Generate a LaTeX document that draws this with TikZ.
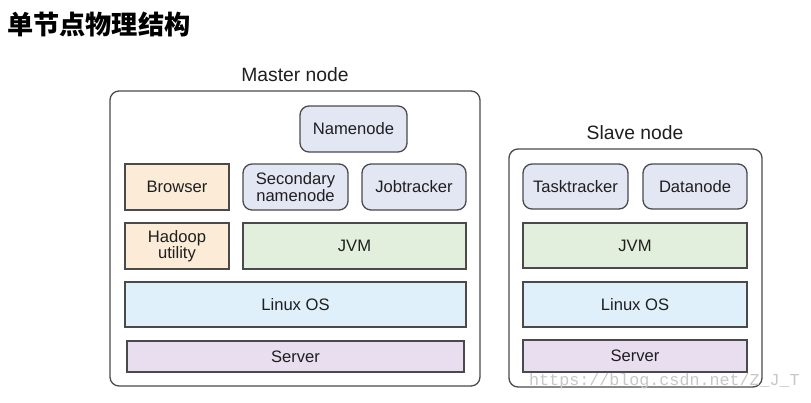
\documentclass[tikz,border=0pt]{standalone}
\usepackage{fontspec}
\setmainfont{Liberation Sans}
\newfontfamily\cjk{Noto Sans CJK SC}
\newfontfamily\wmfont{Liberation Mono}
\definecolor{edge}{HTML}{4A4A4A}
\definecolor{peach}{HTML}{FCEBD6}
\definecolor{lav}{HTML}{E3E7F4}
\definecolor{jvmg}{HTML}{E2EFDC}
\definecolor{osb}{HTML}{DFF0FA}
\definecolor{srvp}{HTML}{E9DEEF}
\tikzset{
  base/.style={draw=edge, line width=1.3pt, inner sep=0pt, align=center,
    font=\fontsize{16.6}{16.5}\selectfont, text=black!88},
  sq/.style={base, rectangle},
  rd/.style={base, rectangle, rounded corners=9pt},
  outer/.style={draw=edge, line width=1.3pt, rounded corners=9pt, inner sep=0pt, fill=white},
  ttl/.style={font=\fontsize{19.3}{20}\selectfont, text=black!88}
}
\begin{document}
\begin{tikzpicture}[x=1pt,y=-1pt]
\useasboundingbox[fill=white] (0,0) rectangle (811,402);
\node[anchor=west, inner sep=0pt, font=\cjk\bfseries\fontsize{26.2}{27}\selectfont] (title) at (7,24) {单节点物理结构};
% Master node
\node[ttl] (mlabel) at (295,75) {Master node};
\node[outer, minimum width=370pt, minimum height=295pt] (master) at (295,238.5) {};
\node[rd, fill=lav, minimum width=107pt, minimum height=46pt] (namenode) at (353.5,129) {Namenode};
\node[sq, fill=peach, minimum width=104pt, minimum height=46pt] (browser) at (177,187) {Browser};
\node[rd, fill=lav, minimum width=105pt, minimum height=46pt] (secnn) at (295.5,187) {Secondary\\namenode};
\node[rd, fill=lav, minimum width=104pt, minimum height=46pt] (jobtracker) at (414,187) {Jobtracker};
\node[sq, fill=peach, minimum width=104pt, minimum height=46pt] (hadoop) at (177,246) {Hadoop\\utility};
\node[sq, fill=jvmg, minimum width=223pt, minimum height=46pt] (mjvm) at (354.5,246) {JVM};
\node[sq, fill=osb, minimum width=341pt, minimum height=45pt] (mos) at (295.5,304.5) {Linux OS};
\node[sq, fill=srvp, minimum width=337pt, minimum height=31pt] (mserver) at (295.5,356.5) {Server};
% Slave node
\node[ttl] (slabel) at (635,133) {Slave node};
\node[outer, minimum width=253pt, minimum height=238pt] (slave) at (635.5,268) {};
\node[rd, fill=lav, minimum width=105pt, minimum height=45pt] (tasktracker) at (575.5,186.5) {Tasktracker};
\node[rd, fill=lav, minimum width=104pt, minimum height=45pt] (datanode) at (695,186.5) {Datanode};
\node[sq, fill=jvmg, minimum width=224pt, minimum height=45pt] (sjvm) at (635,245.5) {JVM};
\node[sq, fill=osb, minimum width=224pt, minimum height=45pt] (sos) at (635,304.5) {Linux OS};
\node[sq, fill=srvp, minimum width=224pt, minimum height=32pt] (sserver) at (635,356) {Server};
% watermark
\node[anchor=west, inner sep=0pt, text=black!22, font=\wmfont\fontsize{16.7}{16}\selectfont] (wm) at (529,381) {https://blog.csdn.net/Z\_J\_T};
\end{tikzpicture}
\end{document}
